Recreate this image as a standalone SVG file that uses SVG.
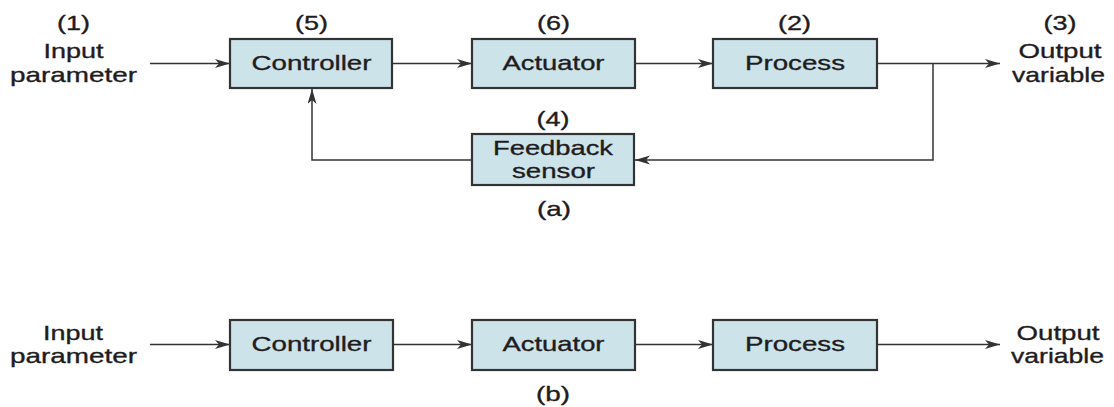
<svg xmlns="http://www.w3.org/2000/svg" width="1114" height="407" viewBox="0 0 1114 407">
<style>
text{font-family:"Liberation Sans",Arial,sans-serif;font-size:21px;fill:#1f1c1d;stroke:#1f1c1d;stroke-width:0.35;text-anchor:middle}
.box{fill:#cde3ea;stroke:#333;stroke-width:2.2}
.ln{fill:none;stroke:#333;stroke-width:1.5}
</style>
<defs>
<marker id="ah" markerUnits="userSpaceOnUse" markerWidth="16" markerHeight="10" refX="15" refY="4.5" orient="auto">
<path d="M0,0 L15,4.5 L0,9 L4,4.5 z" fill="#333"/>
</marker>
</defs>
<rect width="1114" height="407" fill="#fff"/>

<g id="connectors">
<path class="ln" d="M150,63.5 H230" marker-end="url(#ah)"/>
<path class="ln" d="M392,63.5 H472" marker-end="url(#ah)"/>
<path class="ln" d="M635,63.5 H713" marker-end="url(#ah)"/>
<path class="ln" d="M877,63.5 H1000" marker-end="url(#ah)"/>
<path class="ln" d="M933,63.5 V160 H635" marker-end="url(#ah)"/>
<path class="ln" d="M472,160 H312 V89" marker-end="url(#ah)"/>
<path class="ln" d="M150,344.5 H230" marker-end="url(#ah)"/>
<path class="ln" d="M393,344.5 H472" marker-end="url(#ah)"/>
<path class="ln" d="M635,344.5 H713" marker-end="url(#ah)"/>
<path class="ln" d="M877,344.5 H1000" marker-end="url(#ah)"/>
</g>

<g id="a-input">
<text x="73.5" y="30" textLength="33" lengthAdjust="spacingAndGlyphs">(1)</text>
<text x="73.5" y="58" textLength="60" lengthAdjust="spacingAndGlyphs">Input</text>
<text x="73.5" y="81.5" textLength="127" lengthAdjust="spacingAndGlyphs">parameter</text>
</g>
<g id="a-controller">
<text x="311.5" y="30" textLength="33" lengthAdjust="spacingAndGlyphs">(5)</text>
<rect class="box" x="230" y="39" width="162" height="49"/>
<text x="311.5" y="70" textLength="120" lengthAdjust="spacingAndGlyphs">Controller</text>
</g>
<g id="a-actuator">
<text x="553.5" y="30" textLength="33" lengthAdjust="spacingAndGlyphs">(6)</text>
<rect class="box" x="472" y="39" width="163" height="49"/>
<text x="553.5" y="70" textLength="102" lengthAdjust="spacingAndGlyphs">Actuator</text>
</g>
<g id="a-process">
<text x="794.5" y="30" textLength="33" lengthAdjust="spacingAndGlyphs">(2)</text>
<rect class="box" x="713" y="39" width="164" height="49"/>
<text x="795" y="70" textLength="100" lengthAdjust="spacingAndGlyphs">Process</text>
</g>
<g id="a-output">
<text x="1060" y="30" textLength="33" lengthAdjust="spacingAndGlyphs">(3)</text>
<text x="1060" y="58" textLength="83" lengthAdjust="spacingAndGlyphs">Output</text>
<text x="1058.5" y="81.5" textLength="93" lengthAdjust="spacingAndGlyphs">variable</text>
</g>
<g id="a-feedback">
<text x="553" y="126" textLength="33" lengthAdjust="spacingAndGlyphs">(4)</text>
<rect class="box" x="472" y="134" width="162" height="51"/>
<text x="553" y="155" textLength="120" lengthAdjust="spacingAndGlyphs">Feedback</text>
<text x="553.5" y="178" textLength="83" lengthAdjust="spacingAndGlyphs">sensor</text>
</g>
<g id="caption-a">
<text x="554" y="216" textLength="34" lengthAdjust="spacingAndGlyphs">(a)</text>
</g>

<g id="b-input">
<text x="73" y="340" textLength="60" lengthAdjust="spacingAndGlyphs">Input</text>
<text x="73.5" y="363" textLength="127" lengthAdjust="spacingAndGlyphs">parameter</text>
</g>
<g id="b-controller">
<rect class="box" x="230" y="320" width="163" height="50"/>
<text x="311.5" y="351" textLength="120" lengthAdjust="spacingAndGlyphs">Controller</text>
</g>
<g id="b-actuator">
<rect class="box" x="472" y="320" width="163" height="50"/>
<text x="553.5" y="351" textLength="102" lengthAdjust="spacingAndGlyphs">Actuator</text>
</g>
<g id="b-process">
<rect class="box" x="713" y="320" width="164" height="50"/>
<text x="795" y="351" textLength="100" lengthAdjust="spacingAndGlyphs">Process</text>
</g>
<g id="b-output">
<text x="1058" y="340" textLength="83" lengthAdjust="spacingAndGlyphs">Output</text>
<text x="1057.5" y="363" textLength="93" lengthAdjust="spacingAndGlyphs">variable</text>
</g>
<g id="caption-b">
<text x="553" y="401" textLength="34" lengthAdjust="spacingAndGlyphs">(b)</text>
</g>
</svg>
